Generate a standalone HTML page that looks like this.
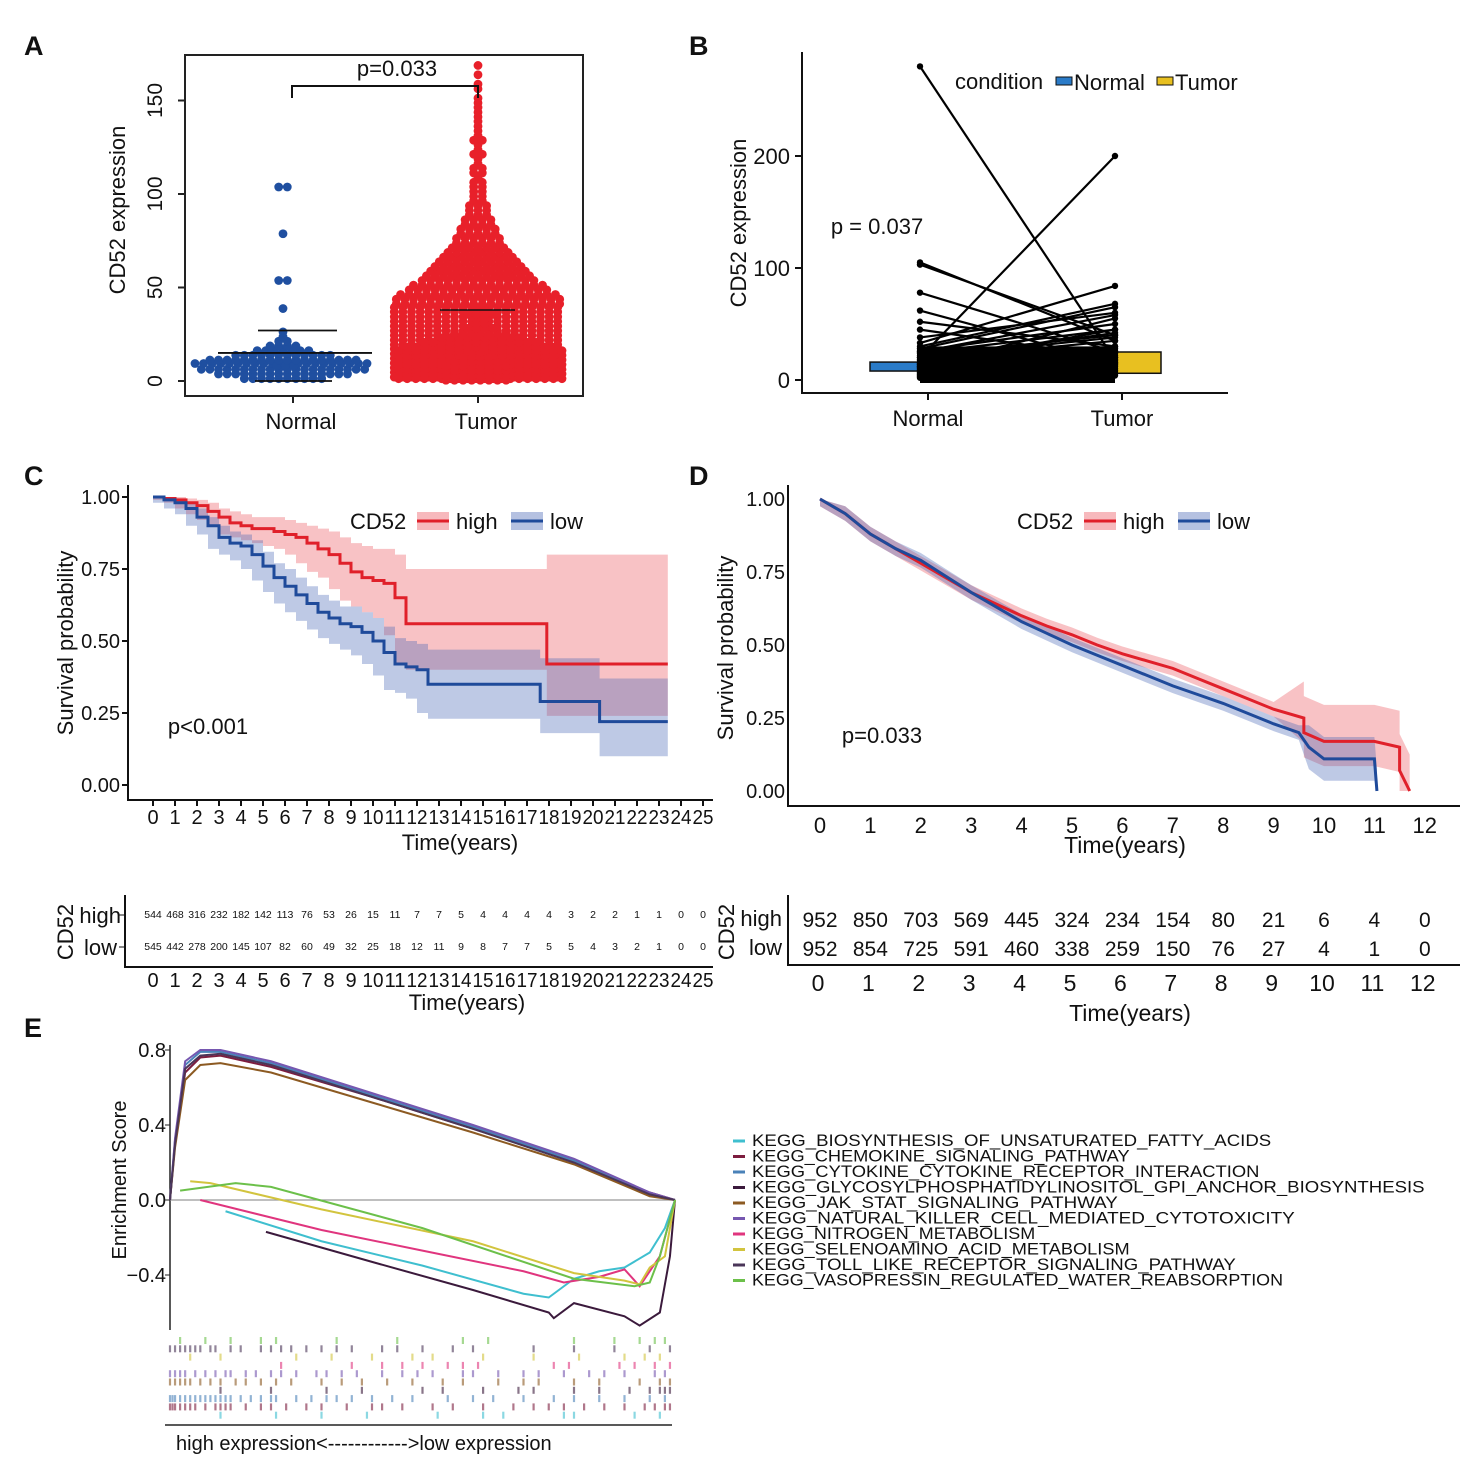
<!DOCTYPE html>
<html><head><meta charset="utf-8"><style>
body{margin:0;background:#fff}
svg{display:block;font-family:"Liberation Sans",Arial,sans-serif}
</style></head><body>
<svg id="fig" width="1483" height="1475" viewBox="0 0 1483 1475">
<g id="A"></g>
<g id="B"></g>
<g id="C"></g>
<g id="D"></g>
<g id="E"></g>
</svg>
<script>
// ---------- DATA ----------
const normalBins=[10,16,20,24,18,12,7,4,2,1,1,0,0,0,0,1,0,0,0,0,0,2,0,0,0,0,0,0,0,0,0,1,0,0,0,0,0,0,0,0,0,2];
const tumorBins=[48,48,48,48,46,44,42,38,34,30,27,24,22,22,24,22,20,20,19,17,16,14,13,12,11,10,9,8,7,6,6,5,5,4,4,3,3,3,2,2,2,2,2,1,2,2,1,1,2,1,1,2,1,1,1,1,1,1,1,1,1,0,1,1,0,1,0,1];
const aTicks=[0,50,100,150];
const bNormal=[280,20,105,103,78,62,52,45,38,33,30,28,26,24,22,20,18,16,15,14,12,11,10,9,8,7,6,5,4,3,2,12,14,18,25];
const bTumor=[18,200,35,40,25,15,30,20,60,84,68,65,50,45,40,38,35,30,28,26,24,22,20,18,16,14,12,10,8,6,4,55,45,42,58];
const bTicks=[0,100,200];
const cHighT=[0,0.5,1,1.5,2,2.5,3,3.5,4,4.5,5,5.5,6,6.5,7,7.5,8,8.5,9,9.5,10,10.5,11,11.5,17.9,17.9,23.4];
const cHighS=[1,0.995,0.99,0.98,0.97,0.95,0.93,0.91,0.90,0.89,0.89,0.88,0.87,0.86,0.84,0.82,0.80,0.77,0.74,0.72,0.71,0.70,0.65,0.56,0.56,0.42,0.42];
const cHighLo=[1,0.99,0.98,0.96,0.94,0.92,0.90,0.87,0.86,0.85,0.84,0.83,0.82,0.80,0.77,0.74,0.72,0.68,0.64,0.62,0.60,0.58,0.52,0.42,0.40,0.24,0.24];
const cHighHi=[1,1,1,0.995,0.99,0.98,0.96,0.95,0.94,0.93,0.93,0.93,0.92,0.91,0.90,0.89,0.88,0.86,0.84,0.83,0.82,0.82,0.80,0.75,0.80,0.80,0.80];
const cLowT=[0,0.5,1,1.5,2,2.5,3,3.5,4,4.5,5,5.5,6,6.5,7,7.5,8,8.5,9,9.5,10,10.5,11,11.5,12,12.5,17.6,17.6,20.3,20.3,23.4];
const cLowS=[1,0.99,0.98,0.96,0.93,0.90,0.86,0.84,0.83,0.80,0.76,0.72,0.69,0.66,0.63,0.60,0.58,0.56,0.55,0.53,0.50,0.46,0.42,0.41,0.40,0.35,0.35,0.29,0.29,0.22,0.22];
const cLowLo=[1,0.98,0.96,0.94,0.90,0.87,0.82,0.80,0.78,0.75,0.71,0.67,0.63,0.60,0.57,0.54,0.51,0.49,0.47,0.45,0.42,0.38,0.33,0.32,0.30,0.25,0.23,0.18,0.18,0.10,0.10];
const cLowHi=[1,1,0.99,0.98,0.96,0.93,0.90,0.88,0.87,0.85,0.81,0.77,0.75,0.72,0.69,0.66,0.64,0.62,0.62,0.60,0.58,0.55,0.51,0.50,0.49,0.47,0.47,0.44,0.44,0.37,0.37];
const cRiskHigh=[544,468,316,232,182,142,113,76,53,26,15,11,7,7,5,4,4,4,4,3,2,2,1,1,0,0];
const cRiskLow=[545,442,278,200,145,107,82,60,49,32,25,18,12,11,9,8,7,7,5,5,4,3,2,1,0,0];
const dHighT=[0,0.5,1,1.5,2,2.5,3,3.5,4,4.5,5,5.5,6,6.5,7,7.5,8,8.5,9,9.6,9.6,10,11,11.5,11.5,11.7];
const dHighS=[1,0.95,0.88,0.83,0.78,0.73,0.68,0.64,0.60,0.565,0.535,0.50,0.47,0.445,0.42,0.385,0.35,0.315,0.28,0.25,0.2,0.17,0.17,0.15,0.07,0.0];
const dLowT=[0,0.5,1,1.5,2,2.5,3,3.5,4,4.5,5,5.5,6,6.5,7,7.5,8,8.5,9,9.5,9.7,10,11,11.05];
const dLowS=[1,0.95,0.88,0.83,0.79,0.735,0.68,0.63,0.58,0.54,0.50,0.465,0.43,0.395,0.36,0.33,0.30,0.265,0.23,0.2,0.15,0.11,0.11,0.0];
const dRiskHigh=[952,850,703,569,445,324,234,154,80,21,6,4,0];
const dRiskLow=[952,854,725,591,460,338,259,150,76,27,4,1,0];
const gseaNames=["KEGG_BIOSYNTHESIS_OF_UNSATURATED_FATTY_ACIDS","KEGG_CHEMOKINE_SIGNALING_PATHWAY","KEGG_CYTOKINE_CYTOKINE_RECEPTOR_INTERACTION","KEGG_GLYCOSYLPHOSPHATIDYLINOSITOL_GPI_ANCHOR_BIOSYNTHESIS","KEGG_JAK_STAT_SIGNALING_PATHWAY","KEGG_NATURAL_KILLER_CELL_MEDIATED_CYTOTOXICITY","KEGG_NITROGEN_METABOLISM","KEGG_SELENOAMINO_ACID_METABOLISM","KEGG_TOLL_LIKE_RECEPTOR_SIGNALING_PATHWAY","KEGG_VASOPRESSIN_REGULATED_WATER_REABSORPTION"];
const gseaColors=["#3fbfcf","#7d1d3f","#4a82b8","#3b1a3c","#8c5a22","#7657b0","#e0357e","#d2c43e","#4a3558","#6cc04a"];
const gX=[
[0.11,0.3,0.5,0.7,0.75,0.8,0.85,0.9,0.95,0.98,1],
[0,0.01,0.03,0.06,0.1,0.2,0.4,0.6,0.8,0.95,1],
[0,0.01,0.03,0.06,0.1,0.2,0.4,0.6,0.8,0.95,1],
[0.19,0.4,0.6,0.75,0.76,0.8,0.9,0.93,0.97,0.99,1],
[0,0.01,0.03,0.06,0.1,0.2,0.4,0.6,0.8,0.95,1],
[0,0.01,0.03,0.06,0.1,0.2,0.4,0.6,0.8,0.95,1],
[0.06,0.3,0.5,0.7,0.78,0.85,0.9,0.93,0.97,1],
[0.04,0.08,0.3,0.6,0.8,0.9,0.93,0.95,0.98,1],
[0,0.01,0.03,0.06,0.1,0.2,0.4,0.6,0.8,0.95,1],
[0.02,0.13,0.2,0.5,0.8,0.92,0.95,0.97,1]];
const gY=[
[-0.06,-0.22,-0.35,-0.5,-0.52,-0.42,-0.38,-0.36,-0.28,-0.15,0],
[0,0.3,0.68,0.76,0.77,0.71,0.55,0.38,0.21,0.04,0],
[0,0.32,0.72,0.79,0.79,0.73,0.56,0.39,0.21,0.03,0],
[-0.17,-0.33,-0.48,-0.6,-0.63,-0.55,-0.62,-0.67,-0.6,-0.3,0],
[0,0.28,0.64,0.72,0.73,0.68,0.52,0.36,0.19,0.02,0],
[0,0.33,0.74,0.8,0.8,0.74,0.57,0.4,0.22,0.04,0],
[0,-0.16,-0.27,-0.38,-0.44,-0.41,-0.37,-0.46,-0.3,0],
[0.1,0.09,-0.05,-0.22,-0.39,-0.43,-0.45,-0.36,-0.3,0],
[0,0.3,0.7,0.77,0.78,0.72,0.55,0.38,0.2,0.03,0],
[0.05,0.09,0.07,-0.15,-0.42,-0.46,-0.44,-0.3,0]];
const rugRows=[
[0.02,0.07,0.12,0.18,0.21,0.33,0.45,0.58,0.63,0.8,0.88,0.93,0.96,0.98],
[0.0,0.01,0.02,0.03,0.04,0.05,0.06,0.08,0.09,0.12,0.14,0.18,0.2,0.22,0.24,0.27,0.3,0.33,0.36,0.42,0.45,0.5,0.56,0.6,0.72,0.8,0.88,0.95,0.99],
[0.04,0.1,0.25,0.32,0.4,0.48,0.52,0.62,0.72,0.81,0.9,0.94,0.97],
[0.22,0.36,0.42,0.46,0.5,0.55,0.58,0.61,0.76,0.79,0.89,0.92,0.96,0.99],
[0.0,0.01,0.02,0.03,0.05,0.07,0.09,0.11,0.12,0.15,0.17,0.2,0.22,0.25,0.29,0.31,0.34,0.37,0.42,0.46,0.49,0.52,0.58,0.6,0.65,0.7,0.73,0.78,0.83,0.86,0.9,0.96,0.98],
[0.0,0.01,0.02,0.03,0.04,0.06,0.08,0.1,0.13,0.15,0.18,0.21,0.24,0.3,0.34,0.38,0.43,0.48,0.54,0.58,0.65,0.7,0.73,0.8,0.85,0.93,0.97,0.99],
[0.1,0.2,0.31,0.38,0.5,0.54,0.62,0.69,0.72,0.8,0.85,0.91,0.95,0.97,0.98,0.99],
[0.0,0.005,0.01,0.02,0.03,0.04,0.05,0.06,0.07,0.08,0.09,0.1,0.11,0.12,0.14,0.16,0.18,0.2,0.21,0.25,0.28,0.31,0.33,0.36,0.4,0.44,0.48,0.55,0.6,0.64,0.7,0.76,0.8,0.85,0.9,0.95,0.98],
[0.0,0.005,0.01,0.02,0.03,0.04,0.05,0.07,0.09,0.1,0.11,0.12,0.15,0.18,0.2,0.23,0.27,0.3,0.35,0.4,0.42,0.46,0.52,0.56,0.62,0.68,0.72,0.75,0.78,0.82,0.86,0.9,0.94,0.96,0.98,0.99],
[0.1,0.21,0.3,0.39,0.53,0.62,0.66,0.78,0.8,0.92,0.97]];
const rugColors=["#6cc04a","#4a3558","#d2c43e","#e0357e","#7657b0","#8c5a22","#3b1a3c","#4a82b8","#7d1d3f","#3fbfcf"];

// ---------- helpers ----------
const NS="http://www.w3.org/2000/svg";
function mk(parent,tag,attrs,text){const e=document.createElementNS(NS,tag);for(const k in attrs)e.setAttribute(k,attrs[k]);if(text!==undefined)e.textContent=text;parent.appendChild(e);return e;}
function label(p,x,y,t,size,anchor,extra){return mk(p,'text',Object.assign({x:x,y:y,'font-size':size,'text-anchor':anchor||'middle',fill:'#111'},extra||{}),t);}
function stepPath(ts,ss,sx,sy){let d='M'+sx(ts[0])+','+sy(ss[0]);for(let i=1;i<ts.length;i++){d+='H'+sx(ts[i])+'V'+sy(ss[i]);}return d;}
function bandPath(ts,lo,hi,sx,sy){let top='M'+sx(ts[0])+','+sy(hi[0]);for(let i=1;i<ts.length;i++)top+='H'+sx(ts[i])+'V'+sy(hi[i]);let bot='';for(let i=ts.length-1;i>0;i--)bot+='V'+sy(lo[i])+'H'+sx(ts[i-1]);return top+'V'+sy(lo[ts.length-1])+bot+'V'+sy(lo[0])+'Z';}
function linePath(ts,ss,sx,sy){return ts.map((t,i)=>(i?'L':'M')+sx(t)+','+sy(ss[i])).join('');}
function lineBand(ts,lo,hi,sx,sy){let d=ts.map((t,i)=>(i?'L':'M')+sx(t)+','+sy(hi[i])).join('');for(let i=ts.length-1;i>=0;i--)d+='L'+sx(ts[i])+','+sy(lo[i]);return d+'Z';}
const fig=document.getElementById('fig');
function letter(x,y,t){const e=label(fig,x,y,t,27,'start',{'font-weight':'bold'});}
letter(24,55,'A');letter(689,55,'B');letter(24,485,'C');letter(689,485,'D');letter(24,1037,'E');

// ---------- Panel A ----------
(function(){
const g=document.getElementById('A');
const ay=v=>381-v*1.87;
const fr=mk(g,'rect',{x:185,y:55,width:398,height:341,fill:'none',stroke:'#222','stroke-width':2});

aTicks.forEach(t=>{mk(g,'line',{x1:178,x2:185,y1:ay(t),y2:ay(t),stroke:'#222','stroke-width':2});
 const tl=label(g,0,0,String(t),21,'middle',{transform:`translate(162,${ay(t)}) rotate(-90)`});});
const yt=label(g,0,0,'CD52 expression',22,'middle',{transform:'translate(125,210) rotate(-90)'});
function swarm(bins,cx,half,color,name){
 const per=Math.floor(2*half/8.6);
 bins.forEach((n,i)=>{if(!n)return;const v=(i+0.5)*2.5;const rows=Math.ceil(n/per);let left=n;
  for(let r=0;r<rows;r++){const k=Math.min(per,left);left-=k;const y=ay(v)+(rows>1?(r-(rows-1)/2)*(4.7/rows):0);
   const off=(r%2)*4.3;
   for(let j=0;j<k;j++){const x=cx+(j-(k-1)/2)*8.6+(rows>1?off-2:0);
    const c=mk(g,'circle',{cx:x,cy:y,r:4.4,fill:color});}}});
}
swarm(normalBins,283,92,'#1f4fa0','normal-point');
swarm(tumorBins,478,87,'#e8202a','tumor-point');
[[258,337,ay(27)],[218,372,ay(15)],[255,332,ay(0)]].forEach(b=>mk(g,'line',{x1:b[0],x2:b[1],y1:b[2],y2:b[2],stroke:'#111','stroke-width':1.8}));
mk(g,'line',{x1:440,x2:515,y1:ay(38),y2:ay(38),stroke:'#111','stroke-width':1.5});
mk(g,'path',{d:'M292,98V86H478V98',fill:'none',stroke:'#111','stroke-width':2});
const p=label(g,397,76,'p=0.033',22);
[[293,'Normal'],[478,'Tumor']].forEach(a=>{mk(g,'line',{x1:a[0],x2:a[0],y1:396,y2:403,stroke:'#222','stroke-width':2});const t=label(g,a[0]+8,429,a[1],22);});
})();

// ---------- Panel B ----------
(function(){
const g=document.getElementById('B');
const by=v=>380-v*1.12;
mk(g,'path',{d:'M802,52V393H1228',fill:'none',stroke:'#111','stroke-width':2});
bTicks.forEach(t=>{mk(g,'line',{x1:795,x2:802,y1:by(t),y2:by(t),stroke:'#111','stroke-width':2});const tl=label(g,790,by(t)+8,String(t),22,'end');});
const yt=label(g,0,0,'CD52 expression',22,'middle',{transform:'translate(746,223) rotate(-90)'});
const nb=mk(g,'rect',{x:870,y:by(16),width:50,height:by(8)-by(16),fill:'#2a7bc8',stroke:'#111','stroke-width':1.5});
const tb=mk(g,'rect',{x:1115,y:by(25),width:46,height:by(6)-by(25),fill:'#e8c020',stroke:'#111','stroke-width':1.5});
mk(g,'rect',{x:920,y:by(30),width:195,height:by(0)-by(30)+3,fill:'#000'});
bNormal.forEach((v,i)=>{const l=mk(g,'line',{x1:920,y1:by(v),x2:1115,y2:by(bTumor[i]),stroke:'#000','stroke-width':2.2});
 mk(g,'circle',{cx:920,cy:by(v),r:3.2,fill:'#000'});mk(g,'circle',{cx:1115,cy:by(bTumor[i]),r:3.2,fill:'#000'});});
const p=label(g,877,234,'p = 0.037',22);
const lg=mk(g,'g',{});
label(lg,955,89,'condition',22,'start');
mk(lg,'rect',{x:1056,y:77,width:16,height:8,fill:'#2a7bc8',stroke:'#111'});label(lg,1074,90,'Normal',22,'start');
mk(lg,'rect',{x:1157,y:77,width:16,height:8,fill:'#e8c020',stroke:'#111'});label(lg,1175,90,'Tumor',22,'start');
[[928,'Normal'],[1122,'Tumor']].forEach(a=>{mk(g,'line',{x1:a[0],x2:a[0],y1:393,y2:400,stroke:'#111','stroke-width':2});const t=label(g,a[0],426,a[1],22);});
})();

// ---------- Panel C ----------
(function(){
const g=document.getElementById('C');
const sx=t=>153+t*22,sy=s=>785-s*288;
mk(g,'path',{d:'M128,485V800H713',fill:'none',stroke:'#111','stroke-width':2});
[0,0.25,0.5,0.75,1].forEach(v=>{mk(g,'line',{x1:122,x2:128,y1:sy(v),y2:sy(v),stroke:'#111','stroke-width':2});const t=label(g,120,sy(v)+7,v.toFixed(2),20,'end');});
for(let i=0;i<=25;i++){mk(g,'line',{x1:sx(i),x2:sx(i),y1:800,y2:806,stroke:'#111','stroke-width':2});const t=label(g,sx(i),824,String(i),20,'middle',i>=10?{textLength:21,lengthAdjust:'spacingAndGlyphs'}:{});}
const xt=label(g,460,850,'Time(years)',22);
const yt=label(g,0,0,'Survival probability',22,'middle',{transform:'translate(73,643) rotate(-90)'});
const b1=mk(g,'path',{d:bandPath(cHighT,cHighLo,cHighHi,sx,sy),fill:'rgba(236,80,90,0.35)'});
const b2=mk(g,'path',{d:bandPath(cLowT,cLowLo,cLowHi,sx,sy),fill:'rgba(70,100,180,0.35)'});
const l1=mk(g,'path',{d:stepPath(cHighT,cHighS,sx,sy),fill:'none',stroke:'#e0202a','stroke-width':3});
const l2=mk(g,'path',{d:stepPath(cLowT,cLowS,sx,sy),fill:'none',stroke:'#1f4a9a','stroke-width':3});
const p=label(g,208,734,'p<0.001',22);
const lg=mk(g,'g',{});
label(lg,350,529,'CD52',22,'start');mk(lg,'rect',{x:417,y:512,width:32,height:18,fill:'rgba(236,80,90,0.4)'});mk(lg,'line',{x1:417,x2:449,y1:521,y2:521,stroke:'#e0202a','stroke-width':3});label(lg,456,529,'high',22,'start');
mk(lg,'rect',{x:511,y:512,width:32,height:18,fill:'rgba(70,100,180,0.4)'});mk(lg,'line',{x1:511,x2:543,y1:521,y2:521,stroke:'#1f4a9a','stroke-width':3});label(lg,550,529,'low',22,'start');
mk(g,'path',{d:'M125,895V967H713',fill:'none',stroke:'#111','stroke-width':2});
cRiskHigh.forEach((v,i)=>{const t=label(g,sx(i),918,String(v),10.5);});
cRiskLow.forEach((v,i)=>{const t=label(g,sx(i),950,String(v),10.5);});
label(g,121,923,'high',22,'end');label(g,117,955,'low',22,'end');
mk(g,'line',{x1:119,x2:125,y1:915,y2:915,stroke:'#111'});mk(g,'line',{x1:119,x2:125,y1:947,y2:947,stroke:'#111'});
label(g,0,0,'CD52',22,'middle',{transform:'translate(73,932) rotate(-90)'});
for(let i=0;i<=25;i++){const t=label(g,sx(i),987,String(i),20,'middle',i>=10?{textLength:21,lengthAdjust:'spacingAndGlyphs'}:{});}
label(g,467,1010,'Time(years)',22);
})();

// ---------- Panel D ----------
(function(){
const g=document.getElementById('D');
const sx=t=>820+t*50.4,sy=s=>791-s*292;
mk(g,'path',{d:'M788,485V806H1460',fill:'none',stroke:'#111','stroke-width':2});
[0,0.25,0.5,0.75,1].forEach(v=>{const t=label(g,785,sy(v)+7,v.toFixed(2),20,'end');});
for(let i=0;i<=12;i++){const t=label(g,sx(i),833,String(i),22);}
const xt=label(g,1125,853,'Time(years)',23);
const yt=label(g,0,0,'Survival probability',22,'middle',{transform:'translate(733,648) rotate(-90)'});
const hiB=dHighS.map((s,i)=>Math.min(1,s+0.025+(dHighT[i]>9.5?0.1:0))),loB=dHighS.map((s,i)=>Math.max(0,s-0.025-(dHighT[i]>9.5?0.06:0)));
const hiL=dLowS.map((s,i)=>Math.min(1,s+0.025+(dLowT[i]>9.5?0.05:0))),loL=dLowS.map((s,i)=>Math.max(0,s-0.025-(dLowT[i]>9.5?0.05:0)));
const b1=mk(g,'path',{d:lineBand(dHighT,loB,hiB,sx,sy),fill:'rgba(236,80,90,0.35)'});
const b2=mk(g,'path',{d:lineBand(dLowT,loL,hiL,sx,sy),fill:'rgba(70,100,180,0.35)'});
const l1=mk(g,'path',{d:linePath(dHighT,dHighS,sx,sy),fill:'none',stroke:'#e0202a','stroke-width':3});
const l2=mk(g,'path',{d:linePath(dLowT,dLowS,sx,sy),fill:'none',stroke:'#1f4a9a','stroke-width':3});
const p=label(g,882,743,'p=0.033',22);
const lg=mk(g,'g',{});
label(lg,1017,529,'CD52',22,'start');mk(lg,'rect',{x:1084,y:512,width:32,height:18,fill:'rgba(236,80,90,0.4)'});mk(lg,'line',{x1:1084,x2:1116,y1:521,y2:521,stroke:'#e0202a','stroke-width':3});label(lg,1123,529,'high',22,'start');
mk(lg,'rect',{x:1178,y:512,width:32,height:18,fill:'rgba(70,100,180,0.4)'});mk(lg,'line',{x1:1178,x2:1210,y1:521,y2:521,stroke:'#1f4a9a','stroke-width':3});label(lg,1217,529,'low',22,'start');
mk(g,'path',{d:'M788,895V965H1460',fill:'none',stroke:'#111','stroke-width':2});
dRiskHigh.forEach((v,i)=>{const t=label(g,sx(i),927,String(v),21);});
dRiskLow.forEach((v,i)=>{const t=label(g,sx(i),956,String(v),21);});
label(g,782,926,'high',22,'end');label(g,782,955,'low',22,'end');
label(g,0,0,'CD52',22,'middle',{transform:'translate(734,932) rotate(-90)'});
for(let i=0;i<=12;i++){const t=label(g,sx(i)-2,991,String(i),23);}
label(g,1130,1021,'Time(years)',23);
})();

// ---------- Panel E ----------
(function(){
const g=document.getElementById('E');
const ex=f=>170+f*505,ey=v=>1200-v*187.5;
mk(g,'line',{x1:170,x2:170,y1:1045,y2:1330,stroke:'#222','stroke-width':1.5});
mk(g,'line',{x1:170,x2:675,y1:ey(0),y2:ey(0),stroke:'#999','stroke-width':1.2});
[0.8,0.4,0.0,-0.4].forEach(v=>{mk(g,'line',{x1:165,x2:170,y1:ey(v),y2:ey(v),stroke:'#222'});const t=label(g,166,ey(v)+7,v.toFixed(1).replace('-','−'),20,'end');});
const yt=label(g,0,0,'Enrichment Score',20,'middle',{transform:'translate(126,1180) rotate(-90)'});
gseaNames.forEach((n,i)=>{const d=gX[i].map((f,j)=>(j?'L':'M')+ex(f)+','+ey(gY[i][j])).join('');
 const p=mk(g,'path',{d:d,fill:'none',stroke:gseaColors[i],'stroke-width':2});
 const y=1146+i*15.5;mk(g,'line',{x1:733,x2:745,y1:y-5,y2:y-5,stroke:gseaColors[i],'stroke-width':3});
 const t=label(g,752,y,n,16.5,'start',{textLength:n.length*11.8,lengthAdjust:'spacingAndGlyphs'});});
rugRows.forEach((row,r)=>{const y0=1337+r*8.3;row.forEach(f=>{const l=mk(g,'line',{x1:ex(f),x2:ex(f),y1:y0,y2:y0+7,stroke:rugColors[r],'stroke-width':2.2,opacity:0.6});});});
mk(g,'line',{x1:165,x2:672,y1:1425,y2:1425,stroke:'#222','stroke-width':1.5});
const xl=label(g,176,1450,'high expression<------------>low expression',20,'start');
})();
</script>
</body></html>
